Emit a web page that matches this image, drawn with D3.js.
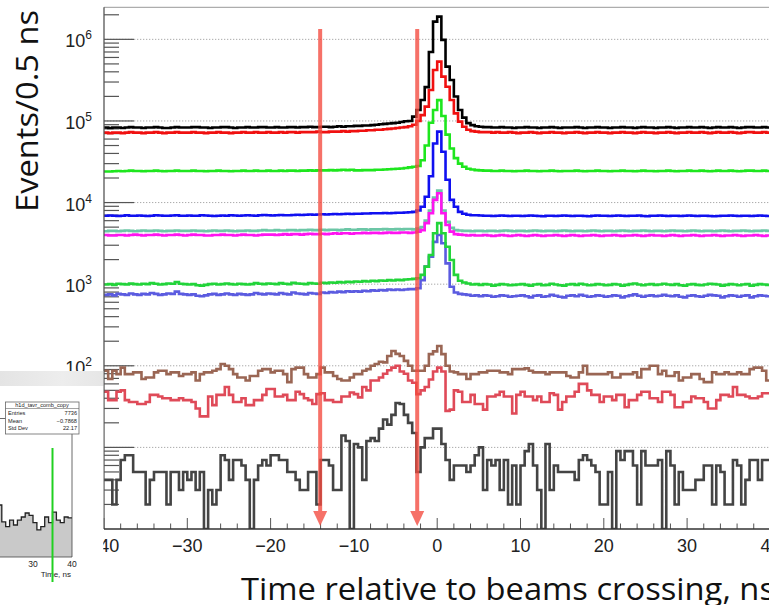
<!DOCTYPE html>
<html><head><meta charset="utf-8">
<script src="https://cdn.jsdelivr.net/npm/d3@7/dist/d3.min.js"></script>
<style>html,body{margin:0;padding:0;background:#fff}svg{display:block}</style>
</head><body>
<svg id="chart" width="769" height="605"></svg>
<script>
// ---------------- DATA ----------------
const binStart = -40, binWidth = 0.5;   // 160 bins of 0.5 ns from -40 to 40
const black = [
83000,82000,83000,83000,82000,83000,84000,83000,83000,82000,83000,83000,84000,83000,82000,82000,83000,84000,83000,83000,
83000,84000,84000,83000,83000,82000,83000,83000,84000,84000,83000,82000,83000,83000,84000,83000,83000,84000,84000,83000,
83000,84000,83000,83000,84000,84000,83000,84000,84000,85000,84000,84000,85000,85000,84000,85000,86000,85000,86000,86000,
87000,87000,88000,88000,89000,90000,91000,92000,93000,94000,95000,97000,99000,100000,113000,136000,181000,260000,700000,1650000,
1900000,984000,463000,318000,199000,136000,110000,94000,89000,86000,85000,84000,84000,83000,83000,84000,83000,83000,82000,83000,
83000,84000,83000,83000,82000,83000,83000,84000,83000,82000,83000,83000,83000,84000,83000,82000,83000,83000,84000,83000,
83000,82000,83000,83000,84000,83000,83000,82000,83000,84000,83000,83000,82000,83000,83000,84000,83000,82000,83000,83000,
84000,83000,83000,84000,83000,82000,83000,84000,83000,83000,84000,83000,82000,83000,84000,84000,83000,83000,84000,83000];
const red = [
72000,71000,72000,72000,71000,72000,73000,72000,72000,71000,72000,72000,73000,72000,71000,72000,72000,73000,72000,72000,
72000,73000,72000,72000,71000,72000,72000,73000,72000,72000,71000,72000,72000,73000,72000,72000,73000,72000,72000,73000,
72000,72000,73000,72000,73000,73000,72000,73000,73000,73000,73000,74000,73000,73000,74000,74000,74000,75000,74000,75000,
75000,76000,76000,77000,77000,78000,78000,79000,80000,81000,82000,83000,84000,86000,90000,100000,118000,150000,240000,422000,
533000,349000,263000,181000,124000,98000,85000,78000,75000,74000,73000,73000,73000,72000,73000,72000,72000,73000,72000,71000,
72000,72000,73000,72000,71000,72000,72000,73000,72000,72000,71000,72000,72000,73000,72000,71000,72000,72000,73000,72000,
72000,71000,72000,72000,73000,72000,72000,71000,72000,73000,72000,72000,71000,72000,72000,73000,72000,71000,72000,72000,
73000,72000,72000,73000,72000,71000,72000,73000,72000,72000,73000,72000,71000,72000,73000,73000,72000,72000,73000,72000];
const green = [
24000,24000,24200,24400,24200,24400,24600,24400,24400,24200,24400,24400,24600,24400,24200,24400,24400,24600,24400,24400,
24400,24600,24400,24400,24200,24400,24400,24600,24400,24400,24200,24400,24400,24600,24400,24400,24600,24400,24400,24600,
24400,24400,24600,24400,24600,24600,24400,24600,24600,24800,24600,24800,24800,24800,25000,24800,25000,25200,25000,25200,
24800,24800,25000,25000,25000,25200,25200,25400,25600,25800,26000,26200,26500,27000,27500,28000,33000,50000,95000,136000,
180000,115000,68000,46000,35000,30000,27500,26000,25400,25000,24800,24600,24600,24400,24400,24600,24400,24400,24200,24400,
24400,24600,24400,24400,24200,24400,24400,24600,24400,24200,24400,24400,24400,24600,24400,24200,24400,24400,24600,24400,
24400,24200,24400,24400,24600,24400,24400,24200,24400,24600,24400,24400,24200,24400,24400,24600,24400,24200,24400,24400,
24600,24400,24400,24600,24400,24200,24400,24600,24400,24400,24600,24400,24200,24400,24600,24600,24400,24400,24600,24400];
const blue = [
6900,6950,6900,6850,6900,7000,6900,6900,6950,6900,6850,6900,7000,6950,6900,6900,6950,7000,6900,6900,
6950,6900,6900,7000,6950,6900,6850,6900,6950,6900,7000,6950,6900,6950,7000,6950,6900,7000,7050,7000,
6950,7000,7050,7000,7000,7050,7100,7050,7100,7150,7100,7150,7200,7150,7200,7250,7200,7250,7300,7250,
7300,7300,7350,7350,7400,7400,7400,7450,7400,7450,7500,7500,7550,7600,7700,8000,8900,11800,21000,53000,
74000,42000,19000,10800,8900,7700,7300,7100,7000,7000,6950,6900,6900,6850,6900,6950,6900,6850,6900,6900,
6850,6900,6950,6900,6850,6800,6900,6900,6850,6900,6950,6900,6850,6900,6900,6850,6800,6900,6950,6900,
6900,6850,6900,6950,6900,6850,6900,6900,6950,6850,6800,6900,6900,6950,6900,6850,6900,6900,6850,6900,
6950,6900,6850,6900,6900,6850,6800,6850,6900,6900,6950,6900,6850,6900,6900,6850,6900,6950,6900,6850];
const teal = [
4450,4500,4500,4450,4500,4550,4500,4450,4500,4550,4500,4500,4550,4500,4450,4500,4500,4550,4500,4500,
4500,4550,4500,4500,4450,4500,4550,4500,4500,4550,4500,4450,4500,4500,4550,4500,4500,4550,4600,4550,
4550,4600,4550,4550,4600,4600,4550,4600,4600,4650,4600,4600,4650,4600,4650,4650,4600,4650,4700,4650,
4650,4700,4700,4650,4700,4700,4700,4750,4700,4700,4750,4700,4750,4750,4700,4800,5000,6000,8000,11500,
14000,8000,5800,4900,4600,4550,4500,4500,4450,4500,4500,4450,4500,4500,4450,4500,4550,4500,4450,4500,
4500,4450,4500,4550,4500,4450,4500,4500,4450,4500,4550,4500,4450,4500,4500,4450,4500,4550,4500,4450,
4500,4500,4450,4500,4550,4500,4450,4500,4500,4550,4500,4450,4500,4500,4450,4500,4550,4500,4500,4450,
4500,4550,4500,4450,4500,4500,4450,4500,4550,4500,4450,4500,4500,4550,4500,4450,4500,4500,4550,4500];
const magenta = [
4000,3950,3950,4000,4000,3950,4000,4050,4000,3950,4000,4000,4050,4000,3950,4000,4000,4050,4000,3950,
4000,4050,4000,4000,3950,3950,4000,4000,4050,4000,4000,3950,4000,4050,4000,4000,3950,4000,4050,4050,
4050,4000,4050,4100,4050,4100,4100,4050,4100,4150,4100,4100,4150,4100,4150,4200,4150,4200,4200,4150,
4200,4200,4250,4200,4250,4250,4200,4250,4300,4250,4250,4300,4300,4250,4300,4400,4600,5600,7400,10800,
13000,7400,5300,4400,4100,4050,4000,3950,4000,3950,3950,4000,3950,3900,3950,4000,3950,3900,3950,4000,
3950,3900,3950,4000,3950,3900,3950,3950,4000,3950,3900,3950,4000,3950,3900,3950,3950,4000,3950,3900,
3950,3950,4000,3950,3900,3950,3950,4000,3950,3900,3950,4000,3950,3950,3900,3950,4000,3950,3900,3950,
3950,4000,3950,3900,3950,3950,4000,3950,3900,3950,3950,4000,3950,3900,3950,3950,4000,3950,3900,3950];
const green2 = [
990,1000,980,1010,1000,990,1020,1000,990,1010,1000,1030,1010,990,1000,1020,1010,1060,1010,1000,
990,1000,970,960,980,1000,1010,990,1000,1020,1000,990,1010,1000,990,1000,1030,1010,1000,1020,
1010,1000,1030,1010,1000,1040,1020,1010,1000,1030,1020,1010,1040,1030,1050,1040,1060,1050,1070,1060,
1080,1070,1090,1080,1100,1090,1110,1100,1120,1110,1130,1120,1140,1150,1160,1180,1300,1640,2280,4200,
5600,4200,2880,1980,1300,1100,1050,1020,990,1000,980,1000,990,960,980,1000,990,970,980,990,
1000,980,960,990,1000,970,980,1010,990,970,960,990,1000,980,1010,990,970,980,1000,990,
970,980,1000,990,960,980,1000,1020,990,970,990,1000,980,990,1010,990,980,1000,970,960,
990,1000,980,970,990,1010,1000,990,960,980,1000,990,970,990,1000,960,980,1000,990,980];
const slate = [
740,750,730,760,750,740,770,750,740,760,750,780,760,740,750,770,760,810,760,750,
740,750,720,710,730,750,760,740,750,770,750,740,760,750,740,750,780,760,750,770,
760,750,780,760,750,790,770,760,750,780,770,760,790,780,800,790,810,800,820,810,
820,810,830,820,840,830,850,840,860,850,860,850,860,870,870,890,1120,1640,2170,3300,
4000,3170,1800,930,790,760,750,740,720,730,710,730,720,700,710,730,720,700,710,720,
730,710,690,720,730,700,710,740,720,700,690,720,730,710,740,720,700,710,730,720,
700,710,730,720,690,710,730,750,720,700,720,730,710,720,740,720,710,730,700,690,
720,730,710,700,720,740,730,720,690,710,730,720,700,720,730,690,710,730,720,710];
const brown = [
87,69,87,79,95,79,79,83,83,69,72,72,83,87,87,79,83,83,75,79,
79,83,66,79,83,83,87,91,105,100,91,79,72,72,66,75,75,87,91,91,
83,87,87,79,63,91,95,95,79,72,72,79,95,83,83,75,69,66,66,72,
79,79,87,91,100,105,112,110,132,152,140,132,115,100,87,87,87,100,139,150,
175,139,100,85,83,79,79,69,79,79,83,83,87,87,87,83,83,79,91,91,
91,93,87,83,83,83,79,83,83,83,83,75,72,72,83,100,79,79,79,79,
79,83,72,72,79,79,79,83,72,91,91,100,100,79,87,75,75,83,66,72,
72,79,79,69,63,63,83,79,79,83,79,79,83,79,79,91,95,95,87,66];
const lightRed = [
48,38,38,48,50,38,36,36,34,34,36,44,44,42,40,40,38,38,40,38,
38,36,30,24,24,42,33,44,44,55,44,36,36,40,33,33,38,38,44,52,
52,42,42,44,38,38,48,45,40,38,34,45,46,38,38,36,36,42,42,47,
45,41,55,50,66,66,72,80,88,95,100,85,80,66,62,45,50,55,68,85,
95,85,28,29,50,48,36,36,44,34,34,29,42,42,44,48,42,42,26,44,
48,42,42,38,42,36,36,46,44,29,36,42,42,48,60,60,50,44,44,36,
42,42,38,44,44,31,38,38,44,48,48,40,40,36,48,48,44,31,31,36,
36,42,40,40,36,30,30,38,44,44,42,55,44,44,42,40,40,42,46,46];
const darkGray = [
4,4,2,4,7,8,8,5,5,5,2,4,5,5,5,2,5,5,3,5,
4,5,3,5,0,3,2,3,8,7,4,7,7,6,4,0,4,6,7,6,
8,8,7,7,5,5,4,3,3,5,5,2,7,7,6,3,3,14,12,0,
11,10,4,12,13,12,17,22,19,25,35,34,25,20,15,5,10,13,13,17,
17,11,7,4,6,6,6,5,6,8,10,3,7,6,7,3,7,2,6,2,
6,9,11,6,3,0,11,3,6,5,5,5,5,4,7,8,7,6,5,2,
2,5,0,9,7,9,9,6,2,9,6,6,6,7,0,9,6,2,5,3,
3,3,4,4,6,6,2,6,5,2,2,7,6,2,4,7,7,4,7,7];
const xTickValues = [-40,-30,-20,-10,0,10,20,30,40];
const yDecades = [1,2,3,4,5,6];
const arrowTimes = [-14.05, -2.4];
// inset (cropped neighbouring histogram)
const insetStart = 21, insetWidth = 1;
const insetCounts = [65,44,38,46,40,46,50,55,52,43,34,38,50,43,56,46,43,50,49];
const insetTicks = [30,40];
const insetMarker = 35;
const statsRows = [["Entries","7736"],["Mean","\u22120.7868"],["Std Dev","22.17"]];

// ---------------- DRAW ----------------
const W = 769, H = 605;
const svg = d3.select('#chart');
svg.append('rect').attr('width',W).attr('height',H).attr('fill','#fff');

const L = 104, R = 770.4, T = 7.3, B = 529;
const x = d3.scaleLinear().domain([-40,40]).range([L,R]);
const y = d3.scaleLog().domain([1,2.47e6]).range([B,T]);

svg.append('defs').append('clipPath').attr('id','pc')
  .append('rect').attr('x',L).attr('y',T).attr('width',R-L+2).attr('height',B-T);

// grid lines at decades
svg.append('g').selectAll('line').data(yDecades).join('line')
  .attr('x1',L).attr('x2',R).attr('y1',d=>y(Math.pow(10,d))).attr('y2',d=>y(Math.pow(10,d)))
  .attr('stroke','#aaa').attr('stroke-width',1).attr('stroke-dasharray','1.3,1.7');

// y ticks
const yt = [];
for (let k=0;k<=6;k++) for (let m=1;m<=9;m++){const v=m*Math.pow(10,k); if(v>1 && v<2.47e6) yt.push({v,major:m===1});}
svg.append('g').selectAll('line').data(yt).join('line')
  .attr('x1',L).attr('x2',d=>L+(d.major?30:15)).attr('y1',d=>y(d.v)).attr('y2',d=>y(d.v))
  .attr('stroke','#555').attr('stroke-width',1.2);

// x ticks
const xt = d3.range(-40,40.01,2);
svg.append('g').selectAll('line').data(xt).join('line')
  .attr('x1',d=>x(d)).attr('x2',d=>x(d)).attr('y1',B).attr('y2',d=>B-(d%10===0?11:5.5))
  .attr('stroke','#555').attr('stroke-width',1);

// series
const series = [
  {v:slate,c:'#5b5be0'},{v:green2,c:'#22d43a'},{v:teal,c:'#6cc6a6'},{v:magenta,c:'#ff14f0'},
  {v:blue,c:'#1010f0'},{v:green,c:'#1ee61e'},{v:red,c:'#f01010'},{v:black,c:'#000'},
  {v:brown,c:'#9a6654'},{v:lightRed,c:'#df4a58'},{v:darkGray,c:'#444'}
];
const line = d3.line().curve(d3.curveStepAfter).x(d=>x(d[0])).y(d=>y(Math.max(d[1],1)));
const gS = svg.append('g').attr('clip-path','url(#pc)');
series.forEach(s=>{
  const pts = s.v.map((v,i)=>[binStart+i*binWidth, v]);
  pts.push([binStart+s.v.length*binWidth, s.v[s.v.length-1]]);
  gS.append('path').attr('d',line(pts)).attr('fill','none').attr('stroke',s.c)
    .attr('stroke-width',2.6).attr('stroke-linejoin','miter');
});

// arrows
arrowTimes.forEach(t=>{
  const g = svg.append('g').attr('opacity',0.78);
  const ax = x(t);
  g.append('line').attr('x1',ax).attr('x2',ax).attr('y1',29).attr('y2',513).attr('stroke','#f44a3e').attr('stroke-width',4);
  g.append('path').attr('d',`M${ax-7},511L${ax+7},511L${ax},526Z`).attr('fill','#f44a3e');
});

// frame / axes lines
svg.append('line').attr('x1',L).attr('x2',R).attr('y1',T).attr('y2',T).attr('stroke','#999').attr('stroke-width',1);
svg.append('line').attr('x1',L).attr('x2',L).attr('y1',T).attr('y2',B).attr('stroke','#555').attr('stroke-width',1.3);
svg.append('line').attr('x1',L).attr('x2',R).attr('y1',B).attr('y2',B).attr('stroke','#333').attr('stroke-width',1.4);

// x tick labels
svg.append('g').selectAll('text').data(xTickValues).join('text')
  .attr('x',d=>x(d)).attr('y',552).attr('text-anchor','middle')
  .attr('font-family','"Liberation Sans", Arial, sans-serif').attr('font-size',18).attr('fill','#222')
  .text(d=>d<0?'\u2212'+(-d):String(d));

// y tick labels
const yl = svg.append('g').attr('font-family','"Liberation Sans", Arial, sans-serif').attr('fill','#222');
yDecades.forEach(k=>{
  const t = yl.append('text').attr('x',92).attr('y',y(Math.pow(10,k))+8).attr('text-anchor','end').attr('font-size',18);
  t.append('tspan').text('10');
  t.append('tspan').attr('font-size',12).attr('dy',-8).text(k);
});

// ---------------- INSET (neighbouring plot, cropped) ----------------
const grad = svg.select('defs').append('linearGradient').attr('id','band').attr('x1',0).attr('x2',1);
grad.append('stop').attr('offset','0%').attr('stop-color','#e4e4e4');
grad.append('stop').attr('offset','60%').attr('stop-color','#ededed');
grad.append('stop').attr('offset','100%').attr('stop-color','#e6e6e6');
svg.append('rect').attr('x',0).attr('y',371).attr('width',103.3).attr('height',15).attr('fill','url(#band)');
svg.append('rect').attr('x',0).attr('y',386).attr('width',103.3).attr('height',219).attr('fill','#fff');

const ix = d3.scaleLinear().domain([30,40]).range([33,72]);
const iy = d3.scaleLinear().domain([0,100]).range([557,477]);
svg.append('defs').append('clipPath').attr('id','ic').append('rect').attr('x',0).attr('y',400).attr('width',72).attr('height',157);
const ipts = insetCounts.map((c,i)=>[insetStart+i*insetWidth,c]);
ipts.push([insetStart+insetCounts.length*insetWidth, insetCounts[insetCounts.length-1]]);
const iline = d3.line().curve(d3.curveStepAfter).x(d=>ix(d[0])).y(d=>iy(d[1]));
const iarea = d3.area().curve(d3.curveStepAfter).x(d=>ix(d[0])).y0(iy(0)).y1(d=>iy(d[1]));
const gi = svg.append('g').attr('clip-path','url(#ic)');
gi.append('path').attr('d',iarea(ipts)).attr('fill','#c9c9c9');
gi.append('path').attr('d',iline(ipts)).attr('fill','none').attr('stroke','#222').attr('stroke-width',1.3);
// inset frame
svg.append('path').attr('d','M0,418.5H72V557H0').attr('fill','none').attr('stroke','#444').attr('stroke-width',0.8);
svg.append('g').selectAll('text').data(insetTicks).join('text')
  .attr('x',d=>ix(d)).attr('y',567).attr('text-anchor','middle')
  .attr('font-family','"Liberation Sans", Arial, sans-serif').attr('font-size',8.5).attr('fill','#222').text(d=>d);
svg.append('text').attr('x',71).attr('y',577).attr('text-anchor','end')
  .attr('font-family','"Liberation Sans", Arial, sans-serif').attr('font-size',8).attr('fill','#222').text('Time, ns');
svg.append('line').attr('x1',ix(insetMarker)).attr('x2',ix(insetMarker)).attr('y1',448).attr('y2',582)
  .attr('stroke','#20d020').attr('stroke-width',2);
// stats box
const sb = svg.append('g').attr('font-family','"Liberation Sans", Arial, sans-serif').attr('font-size',5.6).attr('fill','#222');
sb.append('rect').attr('x',5.5).attr('y',402).attr('width',73.5).attr('height',32).attr('fill','#fff').attr('stroke','#666').attr('stroke-width',0.8);
sb.append('line').attr('x1',5.5).attr('x2',79).attr('y1',408.5).attr('y2',408.5).attr('stroke','#666').attr('stroke-width',0.6);
sb.append('text').attr('x',42).attr('y',407.3).attr('text-anchor','middle').text('h1d_tavr_comb_copy');
statsRows.forEach((r,i)=>{
  sb.append('text').attr('x',8).attr('y',415+i*7.6).text(r[0]);
  sb.append('text').attr('x',77).attr('y',415+i*7.6).attr('text-anchor','end').text(r[1]);
});

// ---------------- TITLES ----------------
svg.append('text').attr('transform','translate(38,212) rotate(-90)')
  .attr('font-family','"Open Sans", sans-serif').attr('font-size',31).attr('fill','#111')
  .attr('textLength',202).attr('lengthAdjust','spacingAndGlyphs').text('Events/0.5 ns');
svg.append('text').attr('x',241).attr('y',600)
  .attr('font-family','"Open Sans", sans-serif').attr('font-size',31).attr('fill','#111')
  .attr('textLength',534).attr('lengthAdjust','spacingAndGlyphs').text('Time relative to beams crossing, ns');
</script>
</body></html>
